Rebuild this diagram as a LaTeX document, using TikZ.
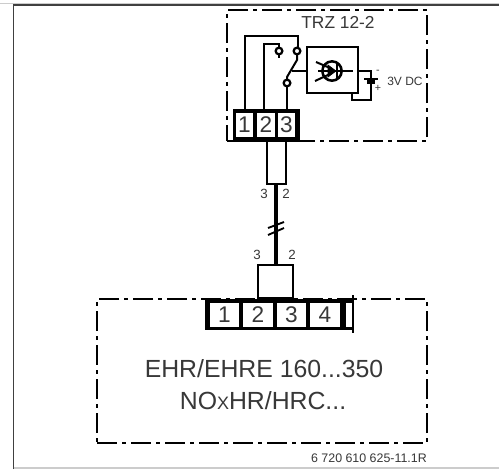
\documentclass[tikz,border=0pt]{standalone}
\usepackage{fontspec}
\setmainfont{Liberation Sans}
\definecolor{ink}{gray}{0.22}
\begin{document}
\begin{tikzpicture}[x=0.75pt, y=-0.75pt, line width=1.9pt,
  housing/.style = {draw, line width=1.7pt, dash pattern=on 15pt off 4pt on 2.5pt off 4pt, inner sep=0pt},
  block/.style = {draw, fill=black, line width=0pt, inner sep=0pt},
  cell/.style = {fill=white, inner sep=0pt, text=ink, font=\fontsize{17}{17}\selectfont, minimum height=18pt},
  contact/.style = {draw, circle, fill=white, inner sep=0pt, minimum size=5pt, line width=1.7pt},
  pin/.style = {text=ink, font=\fontsize{10}{10}\selectfont},
  title/.style = {text=ink, font=\fontsize{18.6}{18.6}\selectfont}]
\useasboundingbox (0,0) rectangle (499,469);
\fill[white] (0,0) rectangle (499,469);

% page frame
\coordinate (tl) at (13.5,5);
\coordinate (tr) at (499,5);
\coordinate (bl) at (13.5,469);
\coordinate (br) at (499,468);
\draw[line width=1.1pt, black!75] (bl) -- (tl) -- (tr);
\draw[line width=1pt, black!20] (tl |- br) -- (br);
\draw[line width=1pt, black!20] (0,3.5) -- (499,3.5);

% upper housing
\node[housing, minimum width=150pt, minimum height=98.25pt] (upper) at (327,75.5) {};
\node[text=ink, font=\fontsize{13}{13}\selectfont] (trz) at (338,22) {TRZ 12-2};

% upper terminals
\node[block, minimum width=49.5pt, minimum height=24pt] (ublock) at (266,125) {};
\node[cell, minimum width=12.75pt] (u1) at (244.5,124.5) {1};
\node[cell, minimum width=13.5pt] (u2) at (266,124.5) {2};
\node[cell, minimum width=12.75pt] (u3) at (286.5,124.5) {3};

% switch
\coordinate (w1a) at (245,36);
\coordinate (w1b) at (298,36);
\coordinate (w2a) at (264,44);
\coordinate (w2b) at (279,44);
\coordinate (arm1) at (297,60);
\coordinate (arm2) at (287,77);
\coordinate (armc) at (291.5,71);
\draw (245,109) -- (w1a) -- (w1b) -- (298,51);
\draw (264,109) -- (w2a) -- (w2b) -- (279,51);
\draw (287,109) -- (287,83);
\draw[line width=1.5pt] (279,51) -- ++(0,7);
\draw[line width=1.5pt] (297,51) -- (arm1) -- (arm2) -- (287,83);
\node[contact] (c1) at (297,51) {};
\node[contact] (c2) at (279,51) {};
\node[contact] (c3) at (287,83) {};

% sensor box
\node[draw, minimum width=38.25pt, minimum height=34.5pt, inner sep=0pt] (sensor) at (332.5,70) {};
\node[draw, circle, inner sep=0pt, minimum size=14.5pt] (lamp) at (332,71) {};
\coordinate (bat) at (371,79);
\coordinate (batb) at (371,100);
\coordinate (batc) at (352,100);
\draw (armc) -- (sensor.west |- armc);
\draw (318,71) -- (353,71);
\draw[line width=1.5pt] (316,62) -- (330,68);
\draw[line width=1.5pt] (315,81) -- (330,74);
\draw[fill=black, line width=0.5pt] (328,65) -- (336,71) -- (328,77) -- cycle;
\draw[line width=1.5pt] (337,64) -- (337,78);
\draw (sensor.east |- lamp) -- (371,71) -- (bat);
\draw[line width=1.4pt] (364,79) -- (378,79);
\draw[line width=2.8pt] (367,82) -- (375,82);
\draw (371,82) -- (batb) -- (batc) -- (batc |- sensor.south);
\node[pin, font=\fontsize{8}{8}\selectfont] (minus) at (378,72) {-};
\node[pin, font=\fontsize{8}{8}\selectfont] (plus) at (378,88) {+};
\node[pin, font=\fontsize{9}{9}\selectfont, anchor=west, inner sep=0pt] (volt) at (386,81) {3V DC};

% cable
\node[draw, minimum width=14.25pt, minimum height=32.25pt, inner sep=0pt] (sleeve) at (276.5,162.5) {};
\node[draw, minimum width=26.25pt, minimum height=25pt, inner sep=0pt] (plug) at (275.5,281.5) {};
\draw[line width=2.3pt] (sleeve.south -| 276,0) -- (plug.north -| 276,0);
\draw[line width=1.4pt] (268,228) -- (284,222);
\draw[line width=1.4pt] (268,235) -- (284,228);
\node[pin] (p3a) at (264,194) {3};
\node[pin] (p2a) at (286,194) {2};
\node[pin] (p3b) at (257,255) {3};
\node[pin] (p2b) at (292,255) {2};

% lower housing
\node[housing, minimum width=247.5pt, minimum height=108pt] (lower) at (262,371) {};
\node[block, minimum width=111pt, minimum height=22.5pt] (lblock) at (279,314) {};
\node[cell, minimum width=21.75pt] (l1) at (224.5,314.5) {1};
\node[cell, minimum width=22.5pt] (l2) at (258,314.5) {2};
\node[cell, minimum width=21.75pt] (l3) at (291.5,314.5) {3};
\node[cell, minimum width=22.5pt] (l4) at (325,314.5) {4};
\node[cell, minimum width=5.25pt] (l5) at (349,314.5) {};
\draw[line width=1.2pt] (353,295) -- (353,333);

% texts
\node[title] (ehr) at (264,369) {EHR/EHRE 160...350};
\node[title] (nox) at (263,401) {NO{\fontsize{13.5}{13.5}\selectfont X}HR/HRC...};
\node[text=ink, inner sep=0pt, anchor=east, font=\fontsize{9.3}{9.3}\selectfont] (code) at (428,458) {6 720 610 625-11.1R};
\end{tikzpicture}
\end{document}
